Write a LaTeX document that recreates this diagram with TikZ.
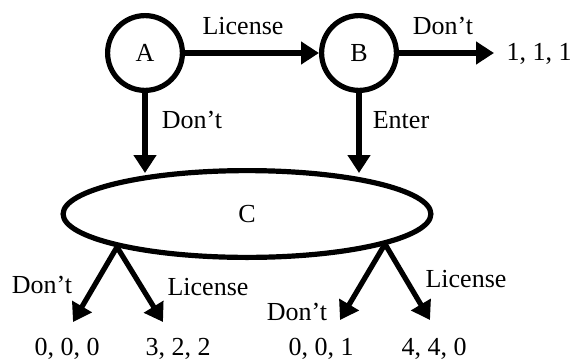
\documentclass[tikz,border=0pt]{standalone}
\usepackage{fontspec}
\setmainfont{Liberation Serif}
\usetikzlibrary{arrows.meta,shapes.geometric}
\begin{document}
\begin{tikzpicture}[x=0.5pt,y=-0.5pt,
  every node/.style={font=\fontsize{13}{15}\selectfont},
  state/.style={draw, circle, line width=2.6pt, minimum size=37.4pt, inner sep=0pt},
  oval/.style={draw, ellipse, line width=2.6pt, minimum width=183.9pt, minimum height=43.4pt, inner sep=0pt},
  arr/.style={line width=2.6pt, -{Triangle[length=9pt,width=11pt]}},
  lbl/.style={anchor=base, inner sep=0pt},
]
\useasboundingbox (0,0) rectangle (573,359);
\node[state] (A) at (145,53) {A};
\node[state] (B) at (359,53) {B};
\node[oval] (C) at (247,214) {C};
\node[lbl] (v111) at (539,60) {1, 1, 1};
\coordinate (t111) at (494,53);
\draw[arr] (A) -- (B);
\draw[arr] (B) -- (t111);
\node[lbl] (lAB) at (243,34) {License};
\node[lbl] (lBo) at (443,34) {Don’t};
\node[lbl] (lAC) at (192,128) {Don’t};
\node[lbl] (lBC) at (401,128) {Enter};
\coordinate (cA) at (145,173);
\coordinate (cB) at (359,173);
\draw[arr] (A) -- (cA);
\draw[arr] (B) -- (cB);
\coordinate (f1) at (117,247);
\coordinate (t1) at (73,322);
\coordinate (t2) at (163,322);
\coordinate (f2) at (385,244);
\coordinate (t3) at (340,320);
\coordinate (t4) at (430,320);
\draw[arr] (f1) -- (t1);
\draw[arr] (f1) -- (t2);
\draw[arr] (f2) -- (t3);
\draw[arr] (f2) -- (t4);
\node[lbl] (l1) at (42,293) {Don’t};
\node[lbl] (l2) at (208,295) {License};
\node[lbl] (l3) at (297,320) {Don’t};
\node[lbl] (l4) at (466,287) {License};
\node[lbl] (v1) at (67,355) {0, 0, 0};
\node[lbl] (v2) at (178,355) {3, 2, 2};
\node[lbl] (v3) at (321,355) {0, 0, 1};
\node[lbl] (v4) at (434,355) {4, 4, 0};
\end{tikzpicture}
\end{document}
